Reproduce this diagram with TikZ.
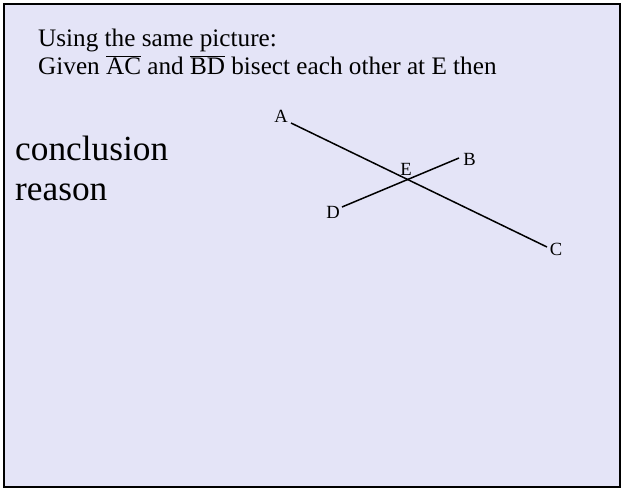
\documentclass[tikz,border=0pt]{standalone}
\usepackage{fontspec}
\setmainfont{Liberation Serif}
\begin{document}
\begin{tikzpicture}[x=1pt,y=-1pt,
  smalltext/.style={anchor=base west,inner sep=0pt,font=\fontsize{25.2}{28}\selectfont},
  bigtext/.style={anchor=base west,inner sep=0pt,font=\fontsize{35.3}{40}\selectfont},
  ptlabel/.style={anchor=base,inner sep=0pt,font=\fontsize{18.6}{20}\selectfont},
  segline/.style={line width=1.5pt,black}]
\definecolor{slidebg}{RGB}{228,228,247}
\useasboundingbox (0,0) rectangle (624,490);
\fill[white] (0,0) rectangle (624,490);
\draw[line width=2pt,fill=slidebg] (4,4) rectangle (620,487);
\node[smalltext] (t1) at (38,46) {Using the same picture:};
\node[smalltext] (t2) at (38,74) {Given\ $\overline{\mbox{AC}}$ and $\overline{\mbox{BD}}$ bisect each other at E then};
\node[bigtext] (c1) at (15,160) {conclusion};
\node[bigtext] (c2) at (15,200) {reason};
\coordinate (pA) at (291,123);
\coordinate (pC) at (547,247);
\coordinate (pD) at (342,207);
\coordinate (pB) at (459,158);
\draw[segline] (pA) -- (pC);
\draw[segline] (pD) -- (pB);
\node[ptlabel] (lA) at (281,122) {A};
\node[ptlabel] (lB) at (469.5,165) {B};
\node[ptlabel] (lC) at (556,255) {C};
\node[ptlabel] (lD) at (333,218) {D};
\node[ptlabel] (lE) at (406,175) {E};
\end{tikzpicture}
\end{document}
